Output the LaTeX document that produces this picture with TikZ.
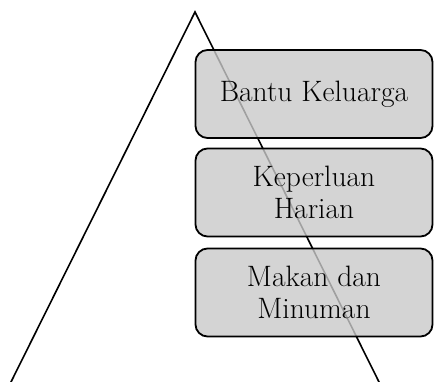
\documentclass[tikz,border=0pt]{standalone}
\usepackage{fontspec}
\setmainfont{Latin Modern Roman}
\begin{document}
\begin{tikzpicture}[x=1pt,y=-1pt,
  levelbox/.style={draw=black, line width=1.8pt, rounded corners=12pt, fill=gray!42, fill opacity=0.8, text opacity=1,
     minimum width=237pt, minimum height=88pt, align=center, font=\fontsize{29.5}{32}\selectfont, inner sep=2pt}]
\useasboundingbox (0,0) rectangle (434,382);
\coordinate (apex) at (195,12);
\coordinate (bl) at (10,384);
\coordinate (br) at (380,384);
\draw[line width=1.6pt] (bl) -- (apex) -- (br);
\node[levelbox] (b1) at (314,94) {Bantu Keluarga};
\node[levelbox] (b2) at (314,192.5) {Keperluan\\Harian};
\node[levelbox] (b3) at (314,292.5) {Makan dan\\Minuman};
\end{tikzpicture}
\end{document}
